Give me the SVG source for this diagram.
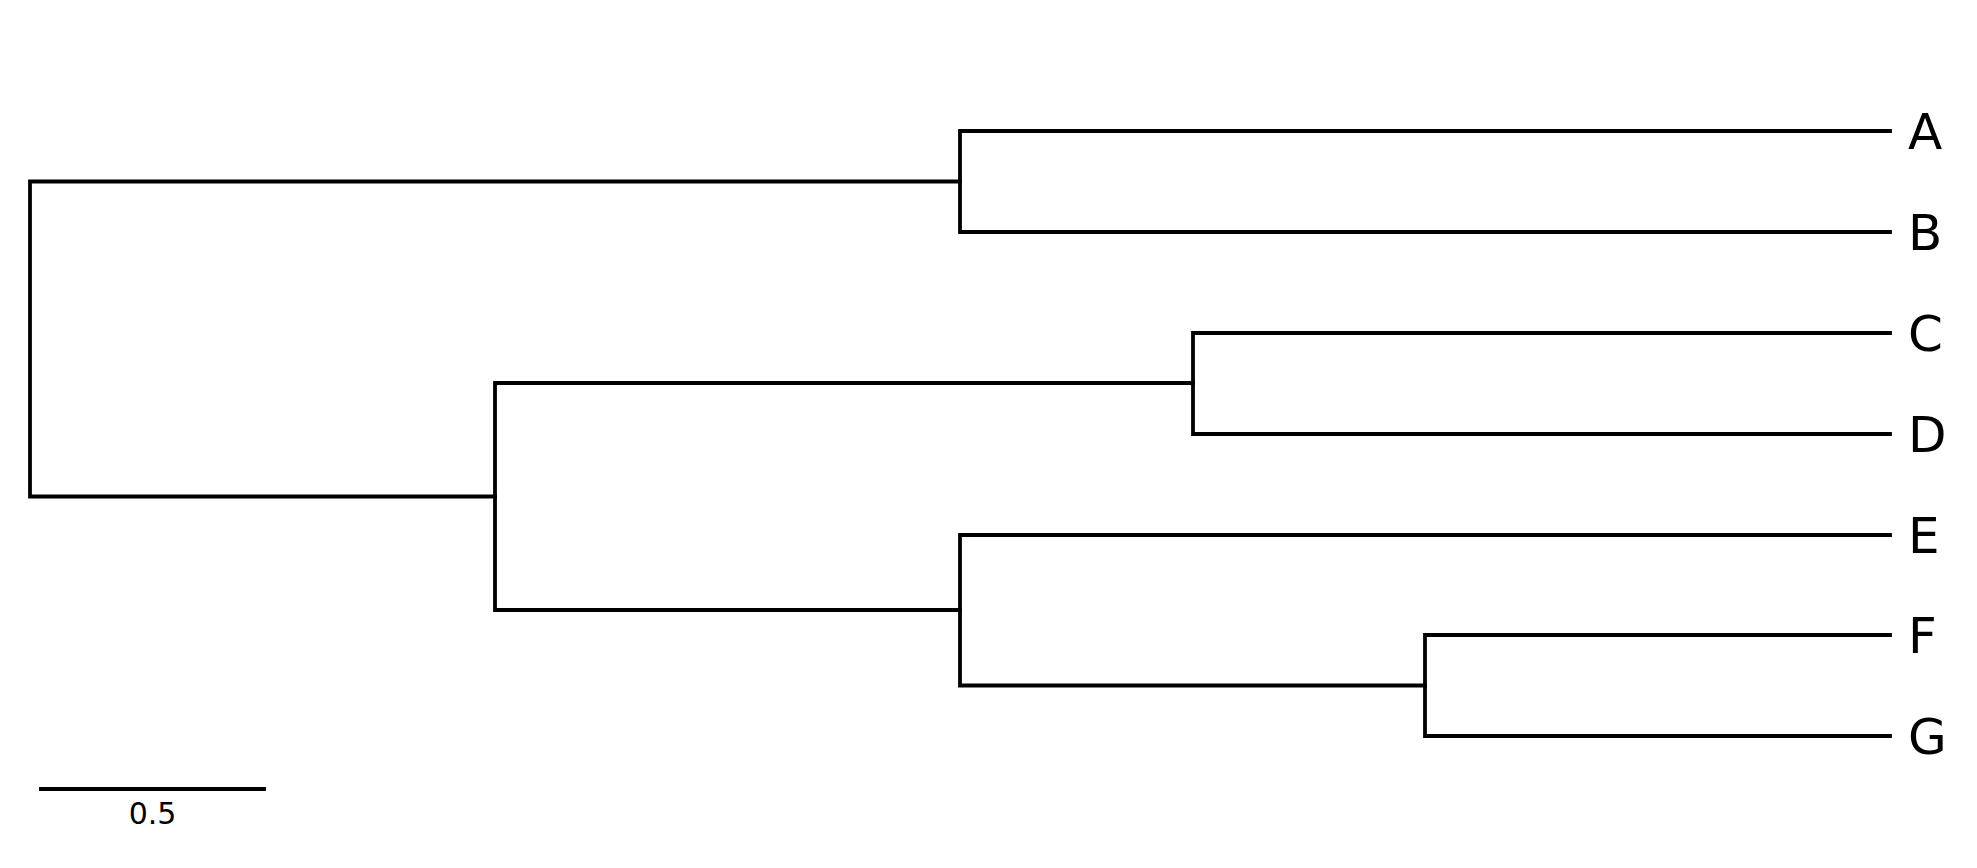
<svg xmlns="http://www.w3.org/2000/svg" width="1977" height="868" viewBox="0 0 1977 868">
<style>
.e{fill:none;stroke:#000;stroke-width:3.8;stroke-linecap:square}
.l{font-family:"DejaVu Sans",sans-serif;font-size:50px;fill:#000}
.s{font-family:"DejaVu Sans",sans-serif;font-size:30px;fill:#000;text-anchor:middle}
</style>
<rect width="1977" height="868" fill="#fff"/>
<g id="edges">
<path class="e" d="M30,181.5V496.5M30,181.5H960M30,496.5H495"/>
<path class="e" d="M960,131V232M960,131H1890M960,232H1890"/>
<path class="e" d="M495,383V610M495,383H1193M495,610H960"/>
<path class="e" d="M1193,333V434M1193,333H1890M1193,434H1890"/>
<path class="e" d="M960,535V685.5M960,535H1890M960,685.5H1425"/>
<path class="e" d="M1425,635V736M1425,635H1890M1425,736H1890"/>
</g>
<g id="A"><text class="l" x="1908" y="149">A</text></g>
<g id="B"><text class="l" x="1908" y="250">B</text></g>
<g id="C"><text class="l" x="1908" y="351">C</text></g>
<g id="D"><text class="l" x="1908" y="452">D</text></g>
<g id="E"><text class="l" x="1908" y="553">E</text></g>
<g id="F"><text class="l" x="1908" y="653">F</text></g>
<g id="G"><text class="l" x="1908" y="754">G</text></g>
<g id="scale">
<path class="e" d="M39,789H266" style="stroke-linecap:butt"/>
<text class="s" x="152.5" y="824">0.5</text>
</g>
</svg>
